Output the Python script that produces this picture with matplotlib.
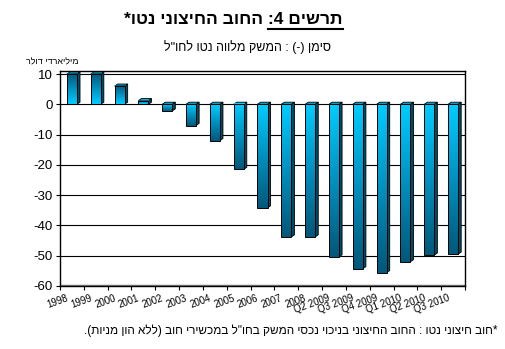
import numpy as np
import matplotlib
matplotlib.use("Agg")
import matplotlib.pyplot as plt
import matplotlib.transforms as mtransforms
from matplotlib.colors import LinearSegmentedColormap
from matplotlib.patches import Rectangle, Polygon

plt.rcParams["font.family"] = ["Liberation Sans", "DejaVu Sans"]

categories = ["1998", "1999", "2000", "2001", "2002", "2003", "2004", "2005",
              "2006", "2007", "2008", "Q2 2009", "Q3 2009", "Q4 2009",
              "Q1 2010", "Q2 2010", "Q3 2010"]
net_debt = [10.0, 10.0, 6.0, 1.2, -2.2, -7.0, -12.0, -21.5,
            -34.2, -43.8, -43.8, -50.4, -54.3, -55.6, -52.0, -49.8, -49.5]
y_ticks = [10, 0, -10, -20, -30, -40, -50, -60]

title_main = "החוב החיצוני נטו*"
title_prefix = "תרשים 4:"
subtitle = 'סימן (-) : המשק מלווה נטו לחו"ל'
unit_label = "מיליארדי דולר"
footnote = '*חוב חיצוני נטו : החוב החיצוני בניכוי נכסי המשק בחו"ל במכשירי חוב (ללא הון מניות).'


def visual(s):
    # matplotlib has no bidi: reverse to visual order, keep digits LTR, mirror brackets
    rev = s[::-1]
    out, run = [], ""
    for ch in rev:
        if ch.isdigit():
            run += ch
            continue
        if run:
            out.append(run[::-1])
            run = ""
        out.append({"(": ")", ")": "("}.get(ch, ch))
    if run:
        out.append(run[::-1])
    return "".join(out)


W, H = 505, 349
fig = plt.figure(figsize=(W / 100, H / 100), dpi=100)
ax = fig.add_axes([60 / W, (H - 286) / H, (465 - 60) / W, (286 - 71) / H])

cmap = LinearSegmentedColormap.from_list("bar", ["#00587a", "#0090bf", "#00ccff"])
grad = np.linspace(0, 1, 64).reshape(-1, 1)[::-1]
w = 0.42
dx, dy = 0.13, 0.7

for i, v in enumerate(net_debt):
    x0, x1 = i - w / 2, i + w / 2
    top, bot = max(v, 0), min(v, 0)
    ax.add_patch(Polygon([(x1, bot), (x1 + dx, bot + dy), (x1 + dx, top + dy), (x1, top)],
                         closed=True, facecolor="#004a63", edgecolor="black", lw=0.6, zorder=3))
    ax.add_patch(Polygon([(x0, top), (x0 + dx, top + dy), (x1 + dx, top + dy), (x1, top)],
                         closed=True, facecolor="#1aa8cc", edgecolor="black", lw=0.6, zorder=3))
    ax.imshow(grad[::-1] if v > 0 else grad, extent=(x0, x1, bot, top), aspect="auto",
              cmap=cmap, zorder=4, origin="upper")
    ax.add_patch(Rectangle((x0, bot), w, top - bot, fill=False, edgecolor="black",
                           lw=0.7, zorder=5))

ax.set_xlim(-0.5, len(categories) - 0.5)
ax.set_ylim(-60, 11)
ax.set_aspect("auto")

ax.set_yticks(y_ticks)
ax.set_yticklabels([str(t) for t in y_ticks], fontsize=9.5)
ax.yaxis.grid(True, color="black", lw=0.8)
ax.set_axisbelow(True)
ax.tick_params(axis="y", direction="out", length=3, width=0.8, pad=2)

ax.set_xticks(np.arange(len(categories)))
ax.set_xticklabels(categories, fontsize=7, rotation=20, ha="right",
                   rotation_mode="anchor")
ax.set_xticks(np.arange(len(categories) + 1) - 0.5, minor=True)
ax.tick_params(axis="x", which="major", length=0, pad=5)
ax.tick_params(axis="x", which="minor", direction="out", length=3, width=0.8)
shift = mtransforms.ScaledTranslation(-6 / 100, 0, fig.dpi_scale_trans)
for lbl in ax.get_xticklabels():
    lbl.set_transform(lbl.get_transform() + shift)

for sp in ax.spines.values():
    sp.set_color("black")
    sp.set_linewidth(1.0)
ax.axhline(-60, color="#808080", lw=2.5, zorder=2)

# titles
t_main = fig.text(268 / W, 1 - 20 / H, visual(title_main) + " ", ha="right", va="center",
                  fontsize=12.5, fontweight="bold")
t_pre = fig.text(268 / W, 1 - 20 / H, visual(title_prefix), ha="left", va="center",
                 fontsize=12.5, fontweight="bold")
fig.canvas.draw()
bb = t_pre.get_window_extent()
fig.add_artist(plt.Line2D([bb.x0 / W, bb.x1 / W], [(bb.y0 - 1) / H, (bb.y0 - 1) / H],
                          color="black", lw=1.5))

fig.text(247 / W, 1 - 47 / H, visual(subtitle), ha="center", va="center", fontsize=9)
fig.text(52 / W, 1 - 62 / H, visual(unit_label), ha="center", va="center", fontsize=6.5)
fig.text(497 / W, 1 - 331 / H, visual(footnote), ha="right", va="center", fontsize=8.5)

fig.savefig("out.png", dpi=100)
